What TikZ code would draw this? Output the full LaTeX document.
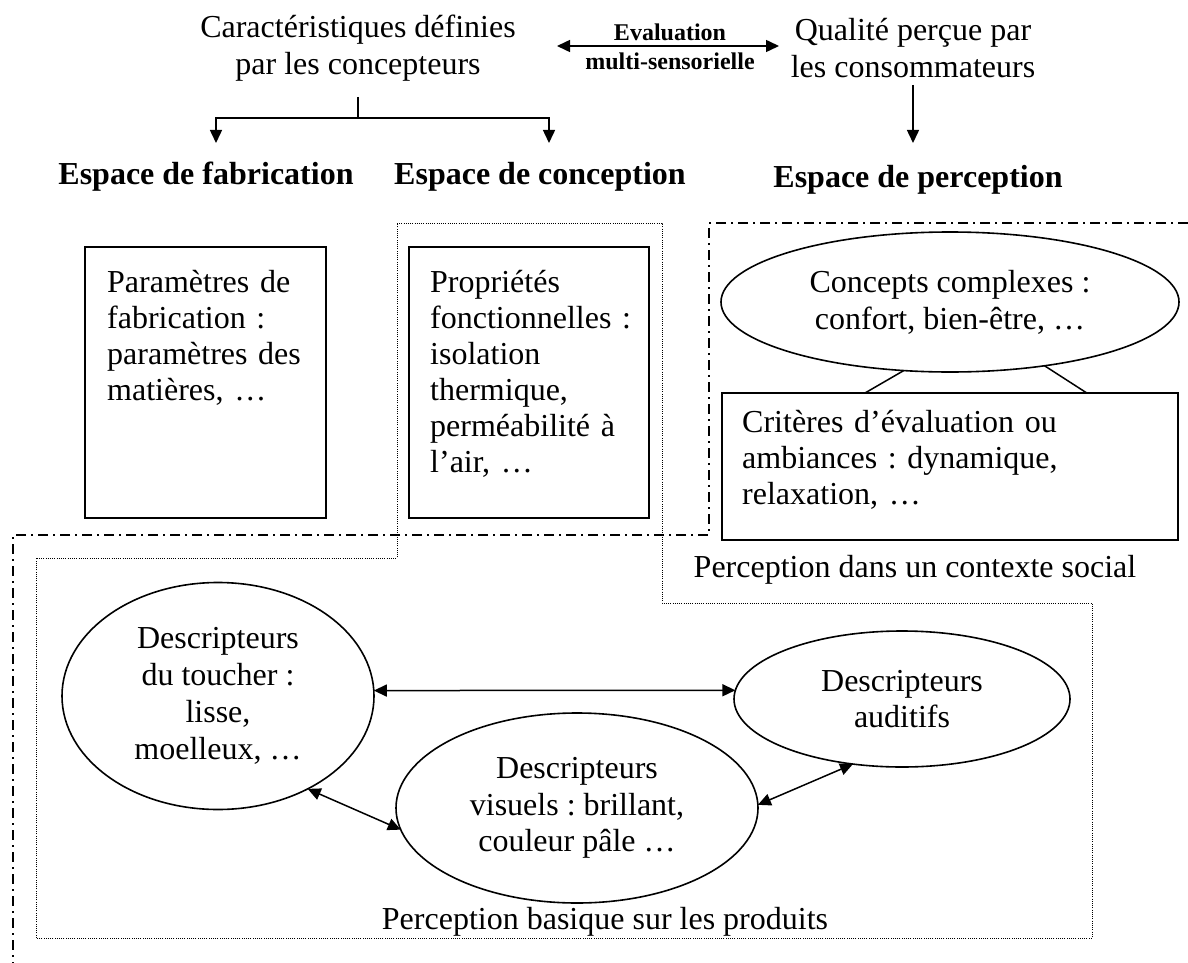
\documentclass[tikz,border=0pt]{standalone}
\usepackage{fontspec}
\setmainfont{Liberation Serif}
\usetikzlibrary{arrows.meta,shapes.geometric,calc}
\frenchspacing

\begin{document}
\begin{tikzpicture}[x=1pt,y=-1pt,
  txt/.style={font=\fontsize{32pt}{36.8pt}\selectfont, inner sep=0pt, align=center},
  hdr/.style={font=\fontsize{32pt}{36.8pt}\selectfont\bfseries, inner sep=0pt},
  box/.style={draw, line width=1.6pt, rectangle, inner sep=0pt, outer sep=0pt, anchor=north west},
  boxtext/.style={font=\fontsize{32pt}{36pt}\selectfont, inner sep=0pt, align=left, anchor=base west},
  oval/.style={draw, line width=1.6pt, ellipse, inner sep=0pt, outer sep=0pt, align=center,
               font=\fontsize{32pt}{36.8pt}\selectfont},
  link/.style={line width=1.5pt},
  arr/.style={line width=1.5pt, -{Triangle[length=13pt,width=12pt]}},
  biarr/.style={line width=1.5pt, {Triangle[length=13pt,width=12pt]}-{Triangle[length=13pt,width=12pt]}},
  dotframe/.style={line width=1pt, dash pattern=on 1pt off 1.2pt},
  dashdotframe/.style={line width=1.6pt, dash pattern=on 10pt off 5pt on 2pt off 5pt},
]
\useasboundingbox (0,0) rectangle (1188,963);

% ---- top row: actors and evaluation ----
\node[txt] (carac) at (358,48) {Caractéristiques définies\\par les concepteurs};
\node[txt] (qual) at (913,48) {Qualité perçue par\\les consommateurs};
\node[font=\fontsize{24pt}{29pt}\selectfont\bfseries, inner sep=0pt, align=center] (evaltxt) at (670,47)
  {Evaluation\\multi-sensorielle};
\coordinate (evalL) at (557,46);
\coordinate (evalR) at (779,46);
\draw[biarr] (evalL) -- (evalR);

% ---- split towards manufacturing and design spaces ----
\coordinate (splittop) at (358,97);
\coordinate (split) at (358,118);
\coordinate (fabtip) at (216,143);
\coordinate (contip) at (549,143);
\draw[link] (splittop) -- (split);
\draw[arr] (split) -| (fabtip);
\draw[arr] (split) -| (contip);

\coordinate (qualtop) at (913,85);
\coordinate (perctip) at (913,143);
\draw[arr] (qualtop) -- (perctip);

% ---- space headings ----
\node[hdr] (hfab) at (206,177) {Espace de fabrication};
\node[hdr] (hcon) at (540,177) {Espace de conception};
\node[hdr] (hper) at (918,180) {Espace de perception};

% ---- frames ----
\draw[dotframe] (397,223) -- (662,223) -- (662,603) -- (1092,603) -- (1092,938)
  -- (36,938) -- (36,558) -- (397,558) -- cycle;
\draw[dashdotframe] (1188,223) -- (709,223) -- (709,535) -- (13,535) -- (13,963);

% ---- rectangular boxes ----
\node[box, minimum width=241pt, minimum height=271pt] (fabbox) at (85,247) {};
\node[boxtext, text width=215pt] (fabtxt) at (107,292)
  {Paramètres de\\fabrication :\\paramètres des\\matières, …};

\node[box, minimum width=240pt, minimum height=271pt] (propbox) at (409,247) {};
\node[boxtext, text width=215pt] (proptxt) at (430,292)
  {Propriétés\\fonctionnelles :\\isolation\\thermique,\\perméabilité à\\l’air, …};

\node[oval, minimum width=458pt, minimum height=140pt] (concepts) at (950,302)
  {Concepts complexes :\\confort, bien-être, …};

\node[box, minimum width=456pt, minimum height=147pt] (critbox) at (722,393) {};
\node[boxtext, text width=420pt] (crittxt) at (742,432)
  {Critères d’évaluation ou\\ambiances : dynamique,\\relaxation, …};

\draw[link] (concepts.-124) -- ($(critbox.north west)!0.3136!(critbox.north east)$);
\draw[link] (concepts.-34) -- ($(critbox.north west)!0.80!(critbox.north east)$);

\node[txt] (social) at (915,570) {Perception dans un contexte social};

% ---- basic perception descriptors ----
\node[oval, minimum width=312pt, minimum height=227pt] (touch) at (218,696)
  {Descripteurs\\du toucher :\\lisse,\\moelleux, …};
\node[oval, minimum width=362pt, minimum height=190pt] (visu) at (577,808)
  {Descripteurs\\visuels : brillant,\\couleur pâle …};
\node[oval, minimum width=336pt, minimum height=136pt] (audi) at (902,699)
  {Descripteurs\\auditifs};

\draw[biarr] (touch.2.2) -- (audi.177);
\draw[biarr] (touch.-46.6) -- (visu.187.8);
\draw[biarr] (visu.1.6) -- (audi.-127);

\node[txt] (basic) at (605,922) {Perception basique sur les produits};

\end{tikzpicture}
\end{document}
